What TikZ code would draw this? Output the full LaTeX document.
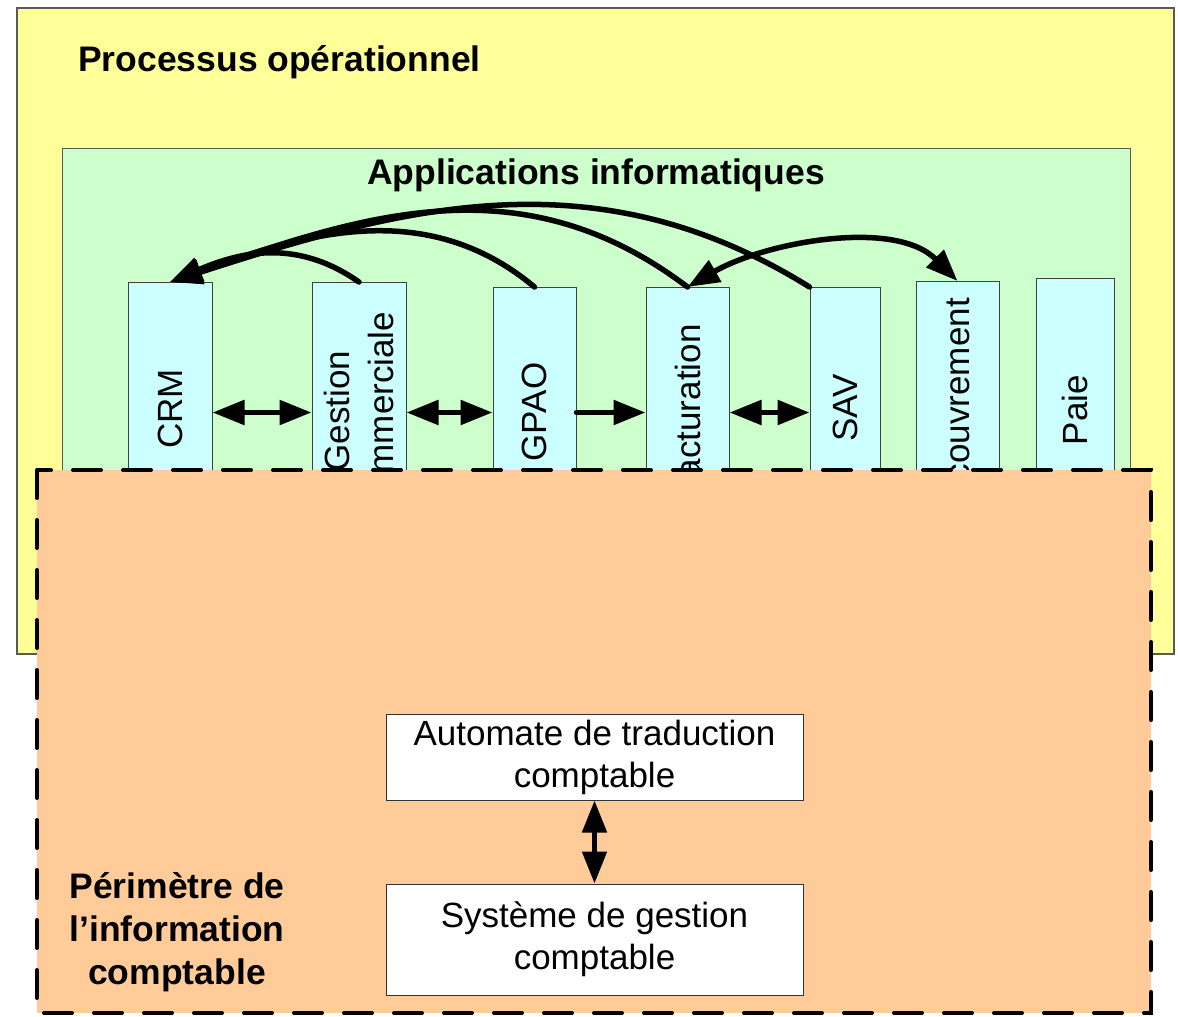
\documentclass[tikz,border=0pt]{standalone}
\usepackage{fontspec}
\setmainfont{Liberation Sans}
\usetikzlibrary{arrows.meta}
\definecolor{procyellow}{HTML}{FFFF99}
\definecolor{appgreen}{HTML}{CCFFCC}
\definecolor{appcyan}{HTML}{CCFFFF}
\definecolor{perimorange}{HTML}{FFCC99}

\begin{document}
\begin{tikzpicture}[x=1pt,y=-1pt,
  tip/.tip={Triangle[length=32pt,width=24pt]},
  container/.style={draw=black!65, line width=1.2pt},
  appbox/.style={draw=black!75, line width=1pt, fill=appcyan, anchor=north, inner sep=0pt},
  apptext/.style={rotate=90, font=\fontsize{35}{44}\selectfont, align=center, inner sep=0pt},
  heading/.style={font=\fontsize{35.5}{43}\selectfont\bfseries, inner sep=0pt, align=center},
  plainbox/.style={draw=black!80, line width=1pt, fill=white, inner sep=0pt,
                   minimum width=417pt, font=\fontsize{35}{42}\selectfont, align=center},
  link/.style={line width=5.5pt, line cap=round},
  perimeter/.style={draw=black, fill=perimorange, line width=4pt, line cap=round,
                    dash pattern=on 28pt off 22pt},
]
\useasboundingbox (0,0) rectangle (1178,1017);

% operational process and application layers
\path[container, fill=procyellow] (17,8) rectangle (1174,654);
\path[container, line width=1pt, fill=appgreen] (62,148) rectangle (1130,600);
\node[heading, anchor=west] (proc) at (78,62) {Processus opérationnel};
\node[heading] (apps) at (596,175) {Applications informatiques};

% application blocks
\node[appbox, minimum width=84pt, minimum height=260pt] (crm)  at (170,282) {};
\node[appbox, minimum width=94pt, minimum height=260pt] (gc)   at (359,282) {};
\node[appbox, minimum width=83pt, minimum height=250pt] (gpao) at (534.5,287) {};
\node[appbox, minimum width=83pt, minimum height=250pt] (fact) at (687.5,287) {};
\node[appbox, minimum width=70pt, minimum height=250pt] (sav)  at (845,287) {};
\node[appbox, minimum width=83pt, minimum height=262pt] (rec)  at (957.5,281) {};
\node[appbox, minimum width=78pt, minimum height=268pt] (paie) at (1075,278) {};

\node[apptext] (crmtxt)  at (170,409) {CRM};
\node[apptext] (gctxt)   at (359,411) {Gestion\\commerciale};
\node[apptext] (gpaotxt) at (534.5,412) {GPAO};
\node[apptext] (facttxt) at (687.5,412) {Facturation};
\node[apptext] (savtxt)  at (845,408) {SAV};
\node[apptext] (rectxt)  at (957.5,412) {Recouvrement};
\node[apptext] (paietxt) at (1075,410) {Paie};

% flows between neighbouring applications
\draw[link, tip-tip] (crm.east) -- (gc.west);
\draw[link, tip-tip] (gc.east) -- (gpao.west);
\draw[link, -tip] (gpao.east) -- (fact.west);
\draw[link, tip-tip] (fact.east) -- (sav.west);

% flows back to the CRM
\draw[link, -tip] (gc.north) .. controls +(-63,-44) and +(70,-30) .. (crm.north);
\draw[link, -tip] (gpao.north) .. controls +(-109,-91) and +(133,-48) .. (crm.north);
\draw[link, -tip] (fact.north) .. controls +(-165,-125) and +(195,-68) .. (crm.north);
\draw[link, -tip] (sav.north west) .. controls +(-212,-132) and +(238,-77) .. (crm.north);

% invoicing <-> collection
\draw[link, tip-tip] (fact.north) .. controls +(77,-44.5) and +(-63,-63) .. (rec.north);

% accounting information perimeter
\path[perimeter] (37,470) rectangle (1151,1013);
\node[heading] (perim) at (177,932) {Périmètre de\\l’information\\comptable};

\node[plainbox, minimum height=86pt]  (auto) at (594.5,757) {Automate de traduction\\comptable};
\node[plainbox, minimum height=111pt] (sgc)  at (594.5,939.5) {Système de gestion\\comptable};
\draw[link, line width=5pt, line cap=butt, tip-tip] (auto.south) -- (sgc.north);
\end{tikzpicture}
\end{document}
